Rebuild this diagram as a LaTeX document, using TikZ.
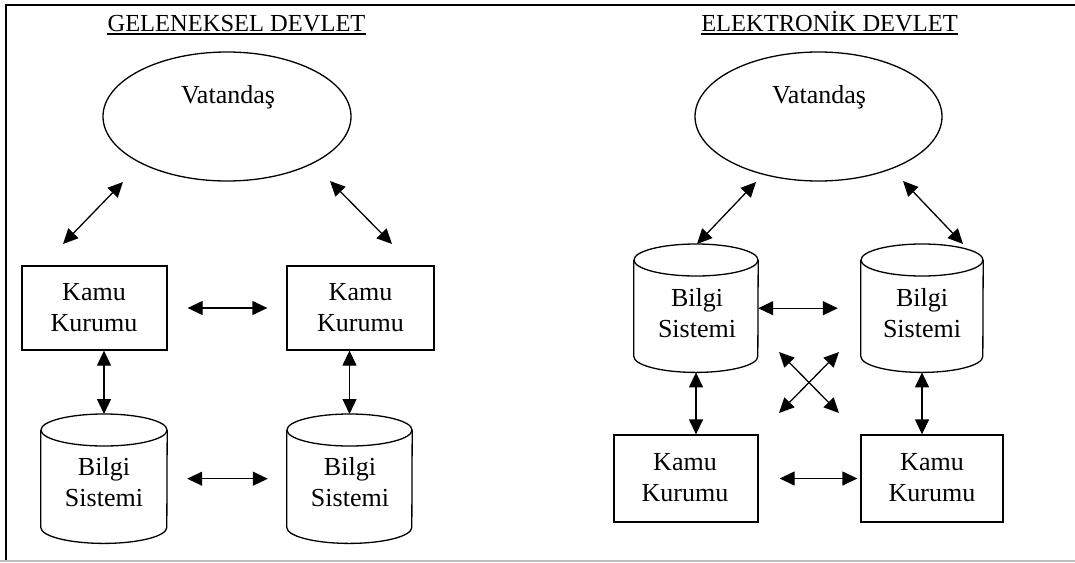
\documentclass[tikz,border=0pt]{standalone}
\usepackage{fontspec}
\setmainfont{Liberation Serif}
\usetikzlibrary{arrows.meta,shapes.geometric,calc}

\tikzset{
  txt/.style={font=\fontsize{26}{31}\selectfont, align=center, inner sep=0pt},
  ttl/.style={font=\fontsize{24.5}{28}\selectfont, inner sep=0pt, anchor=base},
  kurum/.style={draw, line width=1.3pt, rectangle, inner sep=0pt},
  halk/.style={draw, line width=1.3pt, ellipse, inner sep=0pt,
               minimum width=248pt, minimum height=129pt},
  dbline/.style={line width=1.3pt},
  biarrow/.style={line width=1.3pt,
    {Triangle[length=15pt,width=14pt]}-{Triangle[length=15pt,width=14pt]}},
  frameline/.style={line width=1.5pt}
}

% database cylinder: invisible box #1 centred at x=#2, top y=#3, width #4, height #5
\newcommand{\dbcyl}[5]{%
  \node[inner sep=0pt, minimum width=#4pt, minimum height=#5pt, anchor=north] (#1) at (#2,#3) {};
  \draw[dbline] ($(#1.north)+(0pt,-16pt)$) ellipse [x radius=#4pt/2, y radius=16pt];
  \draw[dbline] ($(#1.north west)+(0pt,-16pt)$) -- ($(#1.south west)+(0pt,16pt)$)
     arc[start angle=180, end angle=360, x radius=#4pt/2, y radius=16pt]
     -- ($(#1.north east)+(0pt,-16pt)$);
}

\begin{document}
\begin{tikzpicture}[x=1pt, y=-1pt]
  % page area
  \fill[white] (0,0) rectangle (1075,562);
  \useasboundingbox (0,0) rectangle (1075,562);

  % outer frame
  \draw[frameline] (1075,5) -- (6,5) -- (6,561);
  \draw[line width=1.2pt, black!25] (0,561) -- (1075,561);

  % ---------------- traditional government ----------------
  \node[ttl] (t1) at (236.5,31) {GELENEKSEL DEVLET};
  \draw[line width=1.1pt] ([yshift=-3pt]t1.base west) -- ([yshift=-3pt]t1.base east);

  \node[halk] (v1) at (227,116.5) {};
  \node[txt] (v1t) at (228,97) {Vatandaş};

  \node[kurum, minimum width=145pt, minimum height=84pt] (k1) at (94.5,308) {};
  \node[txt] at (94,307.5) {Kamu\\Kurumu};
  \node[kurum, minimum width=147pt, minimum height=84pt] (k2) at (360.5,308) {};
  \node[txt] at (360.5,307.5) {Kamu\\Kurumu};

  \dbcyl{c1}{104}{414}{126}{129}
  \node[txt] at (104,482.5) {Bilgi\\Sistemi};
  \dbcyl{c2}{349.5}{414}{125}{129}
  \node[txt] at (350,482.5) {Bilgi\\Sistemi};

  \coordinate (a1) at (123,182);
  \coordinate (b1) at (63,244);
  \coordinate (a2) at (330,181);
  \coordinate (b2) at (392,244);
  \draw[biarrow] (a1) -- (b1);
  \draw[biarrow] (a2) -- (b2);

  \draw[biarrow, shorten <=20pt, shorten >=19pt] (k1.east) -- (k2.west);
  \draw[biarrow, shorten <=20pt, shorten >=19pt] (c1.east) -- (c2.west);
  \draw[biarrow] (c1.north |- k1.south) -- (c1.north);
  \draw[biarrow] (c2.north |- k2.south) -- (c2.north);

  % ---------------- electronic government ----------------
  \node[ttl] (t2) at (829.5,31) {ELEKTRONİK DEVLET};
  \draw[line width=1.1pt] ([yshift=-3pt]t2.base west) -- ([yshift=-3pt]t2.base east);

  \node[halk, minimum width=247pt] (v2) at (818.5,116.5) {};
  \node[txt] (v2t) at (819,97) {Vatandaş};

  \dbcyl{c3}{696}{244}{124}{128}
  \node[txt] at (697,313) {Bilgi\\Sistemi};
  \dbcyl{c4}{922}{244}{122}{128}
  \node[txt] at (922,313) {Bilgi\\Sistemi};

  \node[kurum, minimum width=144pt, minimum height=87pt] (k3) at (686,478.5) {};
  \node[txt] at (685,477.5) {Kamu\\Kurumu};
  \node[kurum, minimum width=142pt, minimum height=87pt] (k4) at (932,478.5) {};
  \node[txt] at (932,477.5) {Kamu\\Kurumu};

  \coordinate (a3) at (756,182);
  \coordinate (b3) at (697,244);
  \coordinate (a4) at (903,181);
  \coordinate (b4) at (963,244);
  \draw[biarrow] (a3) -- (b3);
  \draw[biarrow] (a4) -- (b4);

  \draw[biarrow, shorten >=23pt] (c3.east) -- (c4.west);
  \draw[biarrow, shorten <=21pt, shorten >=3pt] (k3.east) -- (k4.west);
  \draw[biarrow] (c3.south) -- (c3.south |- k3.north);
  \draw[biarrow] (c4.south) -- (c4.south |- k4.north);

  % crossing links between the two columns
  \coordinate (x1) at (779,352);
  \coordinate (x2) at (839,413);
  \coordinate (x3) at (839,352);
  \coordinate (x4) at (779,413);
  \draw[biarrow] (x1) -- (x2);
  \draw[biarrow] (x3) -- (x4);
\end{tikzpicture}
\end{document}
